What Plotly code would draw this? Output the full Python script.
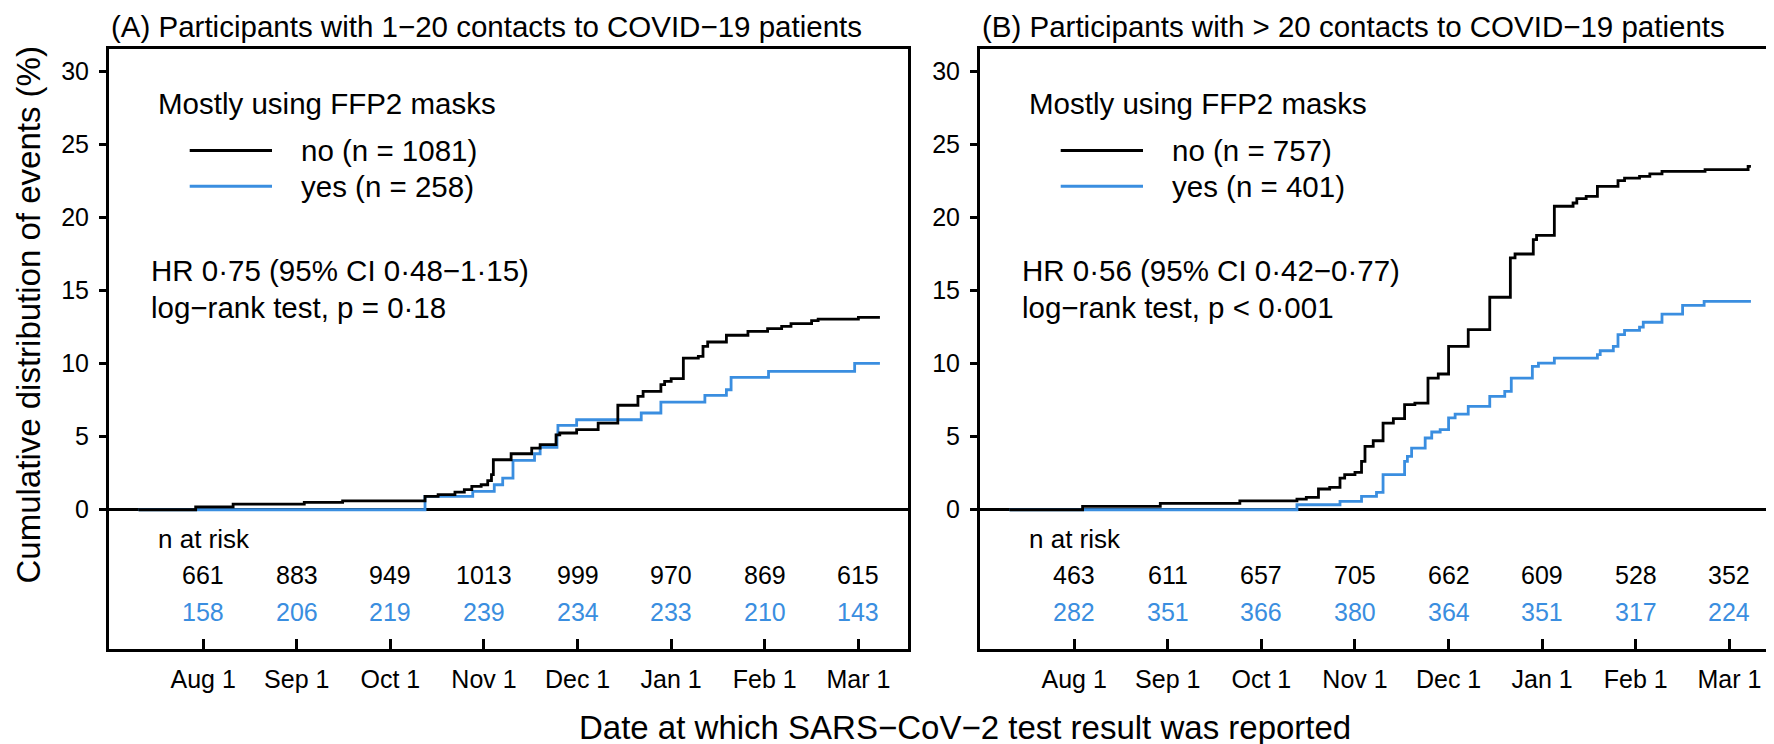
import plotly.graph_objects as go

W, H = 1774, 744

# ---------------- data ----------------
MONTH_LABELS = ["Aug 1", "Sep 1", "Oct 1", "Nov 1", "Dec 1", "Jan 1", "Feb 1", "Mar 1"]
MONTH_POS = [0, 1, 2, 3, 4, 5, 6, 7]   # months since Aug 1

# Panel A: 1-20 contacts
A_no_x = [-0.69, -0.08, 0.32, 1.08, 1.49, 2.37, 2.51, 2.69, 2.79, 2.87, 2.97, 3.04, 3.08, 3.10,
          3.29, 3.51, 3.60, 3.77, 3.81, 3.99, 4.22, 4.43, 4.645, 4.70, 4.89, 4.93, 5.00, 5.13,
          5.29, 5.34, 5.39, 5.59, 5.82, 6.03, 6.18, 6.28, 6.50, 6.57, 7.00, 7.23]
A_no_y = [0.0, 0.20, 0.39, 0.50, 0.60, 0.92, 1.03, 1.21, 1.37, 1.60, 1.71, 1.99, 2.40, 3.42,
          3.83, 4.22, 4.45, 5.13, 5.25, 5.48, 5.93, 7.15, 7.76, 8.10, 8.56, 8.79, 8.97, 10.38,
          10.50, 11.18, 11.48, 11.94, 12.21, 12.39, 12.55, 12.73, 12.94, 13.05, 13.17, 13.17]
A_yes_x = [-0.69, 2.37, 2.88, 3.11, 3.20, 3.31, 3.54, 3.60, 3.78, 3.79, 3.99, 4.68, 4.89, 5.36,
           5.59, 5.64, 6.04, 6.96, 7.23]
A_yes_y = [0.0, 0.92, 1.26, 1.71, 2.17, 3.38, 3.83, 4.27, 5.13, 5.78, 6.16, 6.62, 7.37, 7.83,
           8.21, 9.06, 9.47, 10.02, 10.02]

# Panel B: > 20 contacts
B_no_x = [-0.69, 0.09, 0.92, 1.77, 2.38, 2.48, 2.61, 2.73, 2.84, 2.89, 3.00, 3.07, 3.107, 3.195,
          3.30, 3.41, 3.53, 3.64, 3.78, 3.89, 4.00, 4.21, 4.44, 4.66, 4.71, 4.905, 4.94, 5.13,
          5.33, 5.37, 5.47, 5.59, 5.81, 5.88, 6.04, 6.15, 6.28, 6.74, 7.20, 7.23]
B_no_y = [0.0, 0.23, 0.44, 0.60, 0.73, 0.85, 1.42, 1.53, 2.17, 2.40, 2.56, 3.31, 4.34, 4.72,
          5.93, 6.23, 7.19, 7.30, 9.01, 9.29, 11.18, 12.32, 14.54, 17.23, 17.50, 18.48, 18.78, 20.77,
          20.99, 21.29, 21.45, 22.13, 22.52, 22.70, 22.81, 22.98, 23.16, 23.27, 23.50, 23.50]
B_yes_x = [-0.69, 2.38, 2.84, 3.07, 3.23, 3.30, 3.53, 3.56, 3.605, 3.75, 3.82, 3.91, 4.00, 4.07,
           4.21, 4.44, 4.60, 4.67, 4.895, 4.96, 5.13, 5.59, 5.62, 5.76, 5.81, 5.88, 6.04, 6.08,
           6.28, 6.50, 6.73, 7.23]
B_yes_y = [0.0, 0.34, 0.57, 0.92, 1.19, 2.40, 3.31, 3.65, 4.22, 4.91, 5.32, 5.48, 6.28, 6.55,
           7.08, 7.76, 8.10, 9.01, 9.81, 10.04, 10.38, 10.61, 10.88, 11.18, 11.98, 12.28, 12.50, 12.83,
           13.39, 13.99, 14.26, 14.26]

A_risk_no = [661, 883, 949, 1013, 999, 970, 869, 615]
A_risk_yes = [158, 206, 219, 239, 234, 233, 210, 143]
B_risk_no = [463, 611, 657, 705, 662, 609, 528, 352]
B_risk_yes = [282, 351, 366, 380, 364, 351, 317, 224]

PANEL_TITLES = ["(A) Participants with 1\u221220 contacts to COVID\u221219 patients",
                "(B) Participants with > 20 contacts to COVID\u221219 patients"]
LEGEND_TITLE = "Mostly using FFP2 masks"
LEGEND_NO = ["no (n = 1081)", "no (n = 757)"]
LEGEND_YES = ["yes (n = 258)", "yes (n = 401)"]
HR_TEXT = ["HR 0\u00b775 (95% CI 0\u00b748\u22121\u00b715)", "HR 0\u00b756 (95% CI 0\u00b742\u22120\u00b777)"]
P_TEXT = ["log\u2212rank test, p = 0\u00b718", "log\u2212rank test, p < 0\u00b7001"]
Y_TITLE = "Cumulative distribution of events (%)"
X_TITLE = "Date at which SARS\u2212CoV\u22122 test result was reported"

# ---------------- style ----------------
BLACK = "#000000"
BLUE = "#3a8ee0"
FONT = "Liberation Sans, Arial, sans-serif"

PANEL_LEFT = [101, 972]   # px
BOX_W = 799
BOX_TOP, BOX_BOT = 41, 641
XR = [-1.006, 7.53]
YR = [-9.53, 31.53]


def fx(p):
    return p / W


def fy(p):
    return 1 - p / H


fig = go.Figure()

curves = [(A_no_x, A_no_y, A_yes_x, A_yes_y), (B_no_x, B_no_y, B_yes_x, B_yes_y)]
risks = [(A_risk_no, A_risk_yes), (B_risk_no, B_risk_yes)]

annotations = []
shapes = []

for i in range(2):
    xa = "x" if i == 0 else "x2"
    ya = "y" if i == 0 else "y2"
    nx, ny, yx, yy = curves[i]
    fig.add_trace(go.Scatter(x=yx, y=yy, mode="lines", line=dict(color=BLUE, width=2.8, shape="hv"),
                             xaxis=xa, yaxis=ya, showlegend=False, hoverinfo="skip"))
    fig.add_trace(go.Scatter(x=nx, y=ny, mode="lines", line=dict(color=BLACK, width=2.8, shape="hv"),
                             xaxis=xa, yaxis=ya, showlegend=False, hoverinfo="skip"))

    L = PANEL_LEFT[i]
    axkey = "xaxis" if i == 0 else "xaxis2"
    aykey = "yaxis" if i == 0 else "yaxis2"
    fig.update_layout(**{
        axkey: dict(domain=[fx(L), fx(L + BOX_W)], range=XR, anchor=ya,
                    showgrid=False, zeroline=False, showline=True, linecolor=BLACK, linewidth=3,
                    mirror=True, ticks="inside", ticklen=10, tickwidth=2.5, tickcolor=BLACK,
                    tickvals=MONTH_POS, ticktext=MONTH_LABELS,
                    tickfont=dict(family=FONT, size=25, color=BLACK), ticklabelstandoff=6),
        aykey: dict(domain=[fy(BOX_BOT), fy(BOX_TOP)], range=YR, anchor=xa,
                    showgrid=False, zeroline=True, zerolinecolor=BLACK, zerolinewidth=3,
                    showline=True, linecolor=BLACK, linewidth=3, mirror=True,
                    ticks="outside", ticklen=7, tickwidth=2.5, tickcolor=BLACK,
                    tickvals=[0, 5, 10, 15, 20, 25, 30],
                    tickfont=dict(family=FONT, size=25, color=BLACK), ticklabelstandoff=5),
    })

    # panel title
    annotations.append(dict(text=PANEL_TITLES[i], xref="paper", yref="paper", x=fx(L), y=fy(19),
                            xanchor="left", yanchor="middle", showarrow=False,
                            font=dict(family=FONT, size=29.5, color=BLACK)))
    # legend
    annotations.append(dict(text=LEGEND_TITLE, xref="paper", yref="paper", x=fx(L + 47), y=fy(95),
                            xanchor="left", yanchor="middle", showarrow=False,
                            font=dict(family=FONT, size=29.5, color=BLACK)))
    for txt, col, ypx in [(LEGEND_NO[i], BLACK, 142.5), (LEGEND_YES[i], BLUE, 178.3)]:
        shapes.append(dict(type="line", xref="paper", yref="paper", x0=fx(L + 80.7), x1=fx(L + 163),
                           y0=fy(ypx), y1=fy(ypx), line=dict(color=col, width=3)))
        annotations.append(dict(text=txt, xref="paper", yref="paper", x=fx(L + 190), y=fy(ypx + 0.5),
                                xanchor="left", yanchor="middle", showarrow=False,
                                font=dict(family=FONT, size=29.5, color=BLACK)))
    # HR / p
    annotations.append(dict(text=HR_TEXT[i], xref="paper", yref="paper", x=fx(L + 40), y=fy(262),
                            xanchor="left", yanchor="middle", showarrow=False,
                            font=dict(family=FONT, size=29.5, color=BLACK)))
    annotations.append(dict(text=P_TEXT[i], xref="paper", yref="paper", x=fx(L + 40), y=fy(299),
                            xanchor="left", yanchor="middle", showarrow=False,
                            font=dict(family=FONT, size=29.5, color=BLACK)))
    # n at risk
    annotations.append(dict(text="n at risk", xref="paper", yref="paper", x=fx(L + 47), y=fy(531),
                            xanchor="left", yanchor="middle", showarrow=False,
                            font=dict(family=FONT, size=26, color=BLACK)))
    rno, ryes = risks[i]
    for k in range(len(MONTH_POS)):
        annotations.append(dict(text=str(rno[k]), xref=xa, yref="paper", x=MONTH_POS[k], y=fy(567),
                                xanchor="center", yanchor="middle", showarrow=False,
                                font=dict(family=FONT, size=25, color=BLACK)))
        annotations.append(dict(text=str(ryes[k]), xref=xa, yref="paper", x=MONTH_POS[k], y=fy(603.5),
                                xanchor="center", yanchor="middle", showarrow=False,
                                font=dict(family=FONT, size=25, color=BLUE)))

# axis titles
annotations.append(dict(text=Y_TITLE, xref="paper", yref="paper", x=fx(20), y=fy(307.5),
                        xanchor="center", yanchor="middle", textangle=-90, showarrow=False,
                        font=dict(family=FONT, size=33, color=BLACK)))
annotations.append(dict(text=X_TITLE, xref="paper", yref="paper", x=fx(957), y=fy(719),
                        xanchor="center", yanchor="middle", showarrow=False,
                        font=dict(family=FONT, size=33, color=BLACK)))

fig.update_layout(width=W, height=H, margin=dict(l=0, r=0, t=0, b=0),
                  paper_bgcolor="white", plot_bgcolor="white",
                  annotations=annotations, shapes=shapes, showlegend=False)

fig.write_html("out.html")
